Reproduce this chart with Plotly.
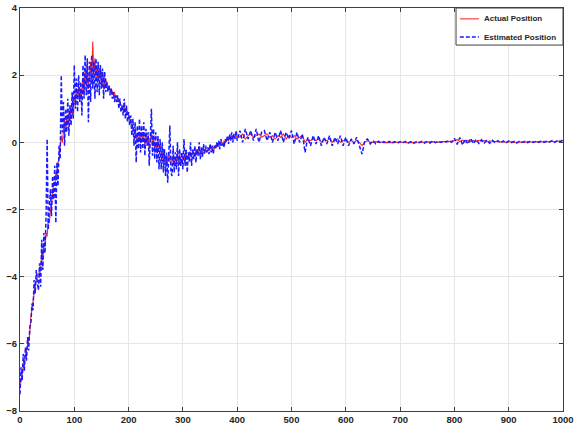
import plotly.graph_objects as go

# ---- data ----
# dense part: every 2 time steps from 0 to 398
actual_dense = [
    -7.3, -7.0, -6.9, -6.7, -6.5, -6.4, -6.2, -6.1, -5.9, -5.7,
    -5.2, -5.0, -4.7, -4.5, -4.2, -4.1, -4.0, -3.9, -3.9, -3.8,
    -3.3, -3.5, -3.0, -3.1, -2.7, -2.8, -2.3, -2.4, -2.0, -1.9,
    -1.5, -1.2, -1.3, -0.9, -1.0, -0.6, -0.5, -0.1, 0.2, 0.0,
    0.4, 0.7, 0.3, 0.8, 0.5, 0.9, 0.6, 1.1, 0.8, 1.2,
    1.4, 1.1, 1.6, 1.3, 1.7, 1.2, 1.6, 1.4, 1.9, 1.5,
    2.2, 1.7, 2.3, 1.6, 2.0, 2.4, 1.8, 3.0, 2.0, 2.5,
    1.9, 2.3, 1.8, 2.2, 1.9, 2.1, 1.7, 2.0, 1.6, 1.9,
    1.7, 1.6, 1.7, 1.5, 1.6, 1.5, 1.4, 1.5, 1.3, 1.4,
    1.3, 1.2, 1.2, 1.1, 1.1, 1.0, 1.1, 0.9, 1.0, 0.9,
    0.8, 0.7, 0.6, 0.5, 0.4, 0.3, 0.4, 0.1, 0.2, 0.1,
    0.2, 0.0, 0.3, 0.1, 0.2, -0.1, 0.2, 0.0, 0.1, -0.2,
    0.1, 0.3, -0.1, 0.1, -0.2, 0.0, -0.3, 0.1, -0.2, -0.1,
    -0.3, -0.5, -0.2, -0.6, -0.4, -0.7, -0.5, -0.3, -0.6, -0.4,
    -0.6, -0.4, -0.7, -0.5, -0.6, -0.3, -0.6, -0.4, -0.7, -0.5,
    -0.5, -0.4, -0.6, -0.3, -0.5, -0.4, -0.5, -0.3, -0.4, -0.3,
    -0.3, -0.4, -0.2, -0.35, -0.3, -0.2, -0.35, -0.25, -0.3, -0.2,
    -0.25, -0.2, -0.3, -0.2, -0.25, -0.15, -0.2, -0.25, -0.15, -0.2,
    -0.1, -0.15, -0.05, -0.1, 0.0, -0.1, 0.0, -0.05, 0.05, 0.0,
    0.05, 0.1, 0.05, 0.15, 0.1, 0.2, 0.1, 0.15, 0.2, 0.15,
]
estimated_dense = [
    -7.5, -6.7, -7.1, -6.3, -6.8, -6.1, -6.5, -5.8, -6.2, -5.5,
    -5.4, -4.8, -5.0, -4.1, -4.5, -3.8, -4.2, -4.4, -3.6, -4.3,
    -2.9, -3.8, -2.7, -3.3, -2.2, 0.1, -2.6, -1.8, -1.4, -2.2,
    -1.0, -1.7, -0.7, -2.4, -0.6, -1.3, -0.1, -0.5, 2.0, 0.3,
    1.2, -0.1, 1.0, 0.3, 1.3, 0.2, 1.1, 0.5, 1.5, 0.7,
    2.3, 1.0, 1.9, 0.9, 2.0, 1.2, 1.8, 0.8, 2.3, 1.3,
    2.6, 1.4, 2.5, 0.6, 2.4, 1.2, 2.6, 1.6, 2.4, 1.3,
    2.5, 1.5, 2.4, 1.4, 2.3, 1.6, 2.2, 1.3, 2.1, 1.5,
    1.8, 1.5, 1.7, 1.4, 1.6, 1.3, 1.5, 1.2, 1.4, 1.2,
    1.4, 1.0, 1.3, 0.9, 1.1, 0.8, 1.3, 0.7, 1.1, 0.6,
    0.9, 0.5, 0.8, 0.2, 0.7, -0.1, 0.6, -0.6, 0.5, -0.2,
    0.7, -0.3, 0.5, -0.2, 0.6, -0.4, 0.4, -0.1, 0.3, -0.7,
    0.5, 1.0, -0.4, 0.4, -0.5, 0.3, -0.6, 0.2, -0.8, 0.1,
    -0.8, 0.0, -0.9, -0.2, -1.0, -0.3, -1.2, -0.4, 0.5, -0.9,
    -1.0, -0.1, -0.9, -0.3, -0.8, 0.0, -1.0, -0.2, -0.7, -0.3,
    -0.8, 0.1, -0.7, -0.2, -0.9, -0.3, -0.6, 0.0, -0.7, -0.2,
    -0.5, -0.1, -0.6, -0.2, -0.4, 0.0, -0.5, -0.15, -0.45, -0.05,
    -0.35, -0.1, -0.3, -0.15, -0.35, -0.05, -0.3, -0.1, -0.35, -0.1,
    -0.2, 0.0, -0.15, 0.05, -0.2, 0.1, -0.1, 0.0, -0.15, 0.1,
    0.0, 0.2, -0.05, 0.25, 0.05, 0.3, 0.0, 0.25, 0.1, 0.35,
]
# sparse part: every 5 time steps from 400 to 1000
actual_sparse = [
    0.2, 0.15, 0.25, 0.1, 0.2, 0.25, 0.15, 0.2, 0.25, 0.15,
    0.2, 0.25, 0.15, 0.2, 0.1, 0.2, 0.15, 0.25, 0.1, 0.2,
    0.15, 0.2, 0.1, 0.15, 0.2, 0.0, 0.1, 0.05, 0.1, 0.05,
    0.1, 0.0, 0.1, 0.05, 0.1, 0.0, 0.05, 0.1, 0.0, 0.05,
    0.05, 0.0, 0.05, 0.0, 0.05, 0.0, -0.1, 0.0, 0.05, 0.0,
    0.0, 0.02, 0.0, 0.01, -0.01, 0.0, 0.01, 0.0, -0.01, 0.01,
    0.0, 0.01, -0.01, 0.0, 0.01, 0.0, -0.01, 0.01, 0.0, 0.01,
    0.0, 0.01, 0.02, 0.0, 0.01, 0.02, 0.01, 0.03, 0.02, 0.03,
    0.05, 0.08, 0.02, 0.07, 0.0, 0.06, 0.02, 0.05, 0.03, 0.06,
    0.03, 0.05, 0.02, 0.04, 0.03, 0.02, 0.03, 0.01, 0.02, 0.0,
    0.01, 0.02, 0.0, 0.01, 0.02, 0.01, 0.0, 0.02, 0.01, 0.02,
    0.01, 0.02, 0.01, 0.03, 0.02, 0.01, 0.03, 0.02, 0.04, 0.03,
    0.05,
]
estimated_sparse = [
    0.05, 0.35, 0.0, 0.4, 0.1, 0.35, 0.05, 0.4, 0.0, 0.3,
    0.35, 0.05, 0.3, 0.0, 0.3, 0.05, 0.35, 0.0, 0.3, 0.1,
    0.35, -0.05, 0.3, 0.0, 0.25, -0.3, 0.15, -0.1, 0.2, -0.05,
    0.2, -0.1, 0.15, -0.05, 0.2, -0.1, 0.15, -0.05, 0.2, -0.1,
    0.15, -0.1, 0.1, -0.05, 0.15, -0.1, -0.35, 0.05, 0.1, -0.05,
    0.05, -0.04, 0.03, -0.03, 0.02, -0.02, 0.03, -0.02, 0.02, -0.03,
    0.02, -0.02, 0.03, -0.02, 0.02, -0.03, 0.02, -0.01, 0.03, -0.02,
    0.03, -0.02, 0.04, -0.01, 0.03, 0.0, 0.04, 0.01, 0.05, 0.0,
    0.12, -0.06, 0.14, -0.08, 0.1, -0.05, 0.12, -0.04, 0.09, -0.03,
    0.08, -0.02, 0.07, -0.03, 0.06, -0.01, 0.05, -0.02, 0.04, -0.02,
    0.04, -0.01, 0.03, -0.02, 0.04, 0.0, 0.03, -0.01, 0.04, 0.0,
    0.03, 0.0, 0.04, 0.0, 0.03, 0.01, 0.05, 0.0, 0.06, 0.02,
    0.08,
]

series_names = ["Actual Position", "Estimated Position"]
x_ticks = [0, 100, 200, 300, 400, 500, 600, 700, 800, 900, 1000]
y_ticks = [-8, -6, -4, -2, 0, 2, 4]

dense_step, sparse_start, sparse_step = 2, 400, 5


def time_axis(dense, sparse):
    return ([dense_step * i for i in range(len(dense))]
            + [sparse_start + sparse_step * i for i in range(len(sparse))])


actual_position = actual_dense + actual_sparse
estimated_position = estimated_dense + estimated_sparse

red = "#ff2a2a"
blue = "#1a1aff"

fig = go.Figure()
fig.add_trace(go.Scatter(
    x=time_axis(actual_dense, actual_sparse), y=actual_position,
    mode="lines", name=series_names[0], showlegend=False,
    line=dict(color=red, width=1.1),
))
fig.add_trace(go.Scatter(
    x=time_axis(estimated_dense, estimated_sparse), y=estimated_position,
    mode="lines", name=series_names[1], showlegend=False,
    line=dict(color=blue, width=1.5, dash="4px,2px"),
))

tickfont = dict(family="Liberation Sans", size=9.5, color="#262626", weight="bold")
axis_common = dict(
    showline=True, linecolor="#404040", linewidth=1, mirror="ticks",
    ticks="inside", ticklen=4, tickcolor="#404040",
    showgrid=True, gridcolor="#e6e6e6", gridwidth=1, zeroline=False,
    tickfont=tickfont, automargin=False,
)

# legend box (MATLAB style, top-right corner of the axes)
lx0, lx1, ly0, ly1 = 0.803, 1.0, 0.908, 1.0
row_y = [0.973, 0.928]
shapes = [
    dict(type="rect", xref="paper", yref="paper", x0=lx0, x1=lx1, y0=ly0, y1=ly1,
         line=dict(color="#404040", width=1), fillcolor="white", layer="above"),
    dict(type="line", xref="paper", yref="paper", x0=0.810, x1=0.845,
         y0=row_y[0], y1=row_y[0], line=dict(color=red, width=1.1), layer="above"),
    dict(type="line", xref="paper", yref="paper", x0=0.810, x1=0.845,
         y0=row_y[1], y1=row_y[1], line=dict(color=blue, width=1.5, dash="4px,2px"),
         layer="above"),
]
annotations = [
    dict(xref="paper", yref="paper", x=0.850, y=yy, text=name, showarrow=False,
         xanchor="left", yanchor="middle",
         font=dict(family="Liberation Sans", size=8, color="#262626", weight="bold"))
    for name, yy in zip(series_names, row_y)
]

fig.update_layout(
    width=575, height=431,
    margin=dict(l=20, r=12, t=8, b=20, autoexpand=False),
    paper_bgcolor="white", plot_bgcolor="white",
    xaxis=dict(range=[0, 1000], tickvals=x_ticks, **axis_common),
    yaxis=dict(range=[-8, 4], tickvals=y_ticks, **axis_common),
    shapes=shapes, annotations=annotations,
    showlegend=False,
)

fig.write_html("out.html")
